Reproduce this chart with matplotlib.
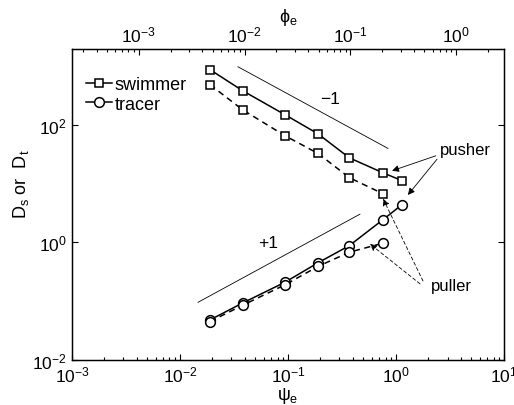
import numpy as np
import matplotlib.pyplot as plt
from matplotlib.ticker import LogLocator, NullLocator, NullFormatter

plt.rcParams['font.family'] = ['Liberation Sans', 'DejaVu Sans']
plt.rcParams['mathtext.fontset'] = 'custom'
plt.rcParams['mathtext.rm'] = 'Liberation Sans'
plt.rcParams['mathtext.it'] = 'Liberation Sans'

# ---- data ----
psi = [0.019, 0.038, 0.094, 0.19, 0.37, 0.76, 1.14]
swimmer_pusher = [865, 380, 148, 70, 27.4, 15.2, 11.2]
tracer_pusher = [0.048, 0.093, 0.21, 0.45, 0.88, 2.44, 4.4]
psi_puller = [0.019, 0.038, 0.094, 0.19, 0.37, 0.76]
swimmer_puller = [480, 180, 65, 32.5, 12.6, 6.7]
tracer_puller = [0.045, 0.085, 0.19, 0.39, 0.68, 0.97]

slope_m1_x = [0.0344, 0.843]
slope_m1_c = 33.4
slope_p1_x = [0.0147, 0.464]
slope_p1_c = 6.5

fig = plt.figure(figsize=(5.14, 4.06), dpi=100)
ax = fig.add_axes([0.140, 0.111, 0.8405, 0.766])

mk = dict(color='black', lw=1.1, mfc='white', mec='black', mew=1.1)
ax.plot(psi, swimmer_pusher, '-s', ms=5.5, label='swimmer', **mk)
ax.plot(psi, tracer_pusher, '-o', ms=7, label='tracer', **mk)
ax.plot(psi_puller, swimmer_puller, '--s', ms=5.5, dashes=(4, 3), **mk)
ax.plot(psi_puller, tracer_puller, '--o', ms=7, dashes=(4, 3), **mk)

# slope guides
xm = np.array(slope_m1_x)
ax.plot(xm, slope_m1_c / xm, color='black', lw=0.6)
xp = np.array(slope_p1_x)
ax.plot(xp, slope_p1_c * xp, color='black', lw=0.6)
ax.text(0.245, 277, '\u22121', fontsize=12.5, ha='center', va='center')
ax.text(0.065, 0.98, '+1', fontsize=12.5, ha='center', va='center')

# annotations
ap = dict(arrowstyle='-|>', color='black', lw=0.6, mutation_scale=10, shrinkA=0, shrinkB=0)
ax.text(4.35, 37.5, 'pusher', fontsize=12, ha='center', va='center')
ax.annotate('', xy=(0.92, 16.5), xytext=(2.34, 29.7), arrowprops=ap)
ax.annotate('', xy=(1.29, 6.4), xytext=(2.4, 26), arrowprops=ap)
apd = dict(ap, linestyle=(0, (4, 3)))
ax.text(3.23, 0.182, 'puller', fontsize=12, ha='center', va='center')
ax.annotate('', xy=(0.76, 5.5), xytext=(1.78, 0.22), arrowprops=apd)
ax.annotate('', xy=(0.574, 0.94), xytext=(1.67, 0.197), arrowprops=apd)

ax.set_xscale('log')
ax.set_yscale('log')
ax.set_xlim(1e-3, 1e1)
ax.set_ylim(1e-2, 10 ** 3.29)
ax.set_xticks([1e-3, 1e-2, 1e-1, 1e0, 1e1])
ax.xaxis.set_minor_locator(LogLocator(base=10, subs=np.arange(2, 10)))
ax.xaxis.set_minor_formatter(NullFormatter())
ax.set_yticks([1e-2, 1e0, 1e2])
ax.yaxis.set_minor_locator(NullLocator())
ax.tick_params(which='both', direction='in', right=True, labelsize=12.5, width=0.8)
ax.tick_params(which='major', length=4)
ax.tick_params(which='minor', length=2)
ax.tick_params(axis='x', which='both', top=False)
for s in ax.spines.values():
    s.set_linewidth(1.0)

ax.set_xlabel(r'$\psi_\mathrm{e}$', fontsize=13, labelpad=0)
ax.set_ylabel(r'D$_\mathrm{s}$ or  D$_\mathrm{t}$', fontsize=13)
ax.yaxis.set_label_coords(-0.095, 0.57)

# top axis
ax2 = ax.twiny()
ax2.set_xscale('log')
ax2.set_xlim(10 ** -3.63, 10 ** 0.45)
ax2.set_xticks([1e-3, 1e-2, 1e-1, 1e0])
ax2.xaxis.set_minor_locator(LogLocator(base=10, subs=np.arange(2, 10)))
ax2.xaxis.set_minor_formatter(NullFormatter())
ax2.tick_params(which='both', direction='in', labelsize=12.5, width=0.8)
ax2.tick_params(which='major', length=4)
ax2.tick_params(which='minor', length=2)
ax2.set_xlabel(r'$\phi_\mathrm{e}$', fontsize=13, labelpad=2)

leg = ax.legend(loc='upper left', frameon=False, fontsize=13, handlelength=1.4,
                handletextpad=0.15, borderaxespad=0.4, labelspacing=0.15,
                bbox_to_anchor=(0.0, 0.96))

fig.savefig('out.png', dpi=100)
